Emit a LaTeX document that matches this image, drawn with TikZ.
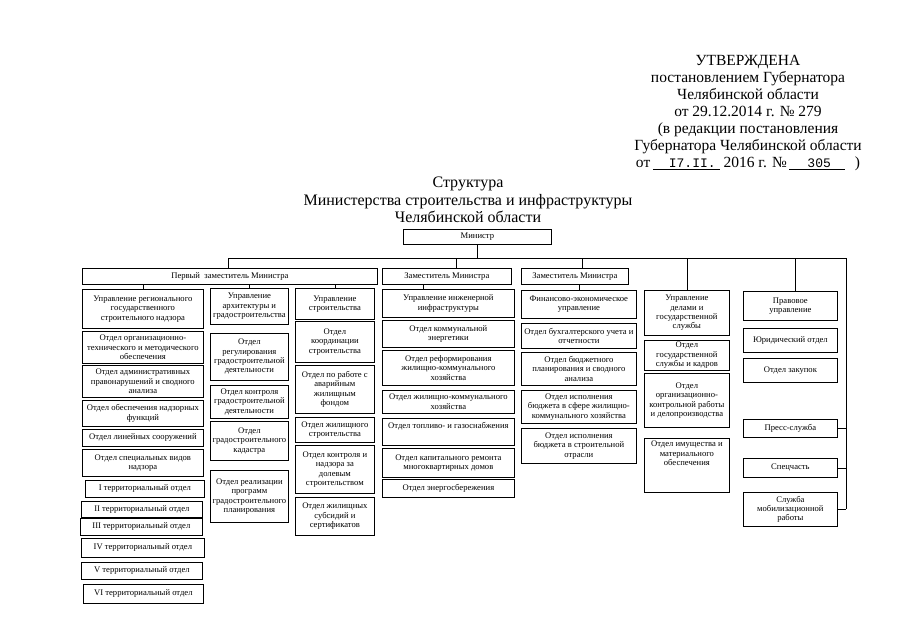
\documentclass[tikz,border=0pt]{standalone}
\usepackage{fontspec}
\setmainfont{Liberation Serif}
\newfontfamily\typew{Liberation Mono}
\tikzset{
  bx/.style={draw, line width=0.75pt, anchor=north west, inner sep=0pt, align=center, font=\fontsize{8.6}{9.4}\selectfont},
  ln/.style={line width=0.75pt},
}
\newcommand\obox[6]{\node[bx, minimum width=#4pt, minimum height=#5pt] (#1) at (#2,#3) {#6};}
\begin{document}
\begin{tikzpicture}[x=1pt,y=-1pt]
\useasboundingbox[fill=white] (0,0) rectangle (905,640);
% header
\node[anchor=north, align=center, inner sep=0pt, font=\fontsize{15.5}{17}\selectfont] (hdr) at (748,55)
 {УТВЕРЖДЕНА\\постановлением Губернатора\\Челябинской области\\от 29.12.2014 г. № 279\\(в редакции постановления\\Губернатора Челябинской области\\от\,\underline{\hspace{16pt}{\typew\fontsize{13}{13}\selectfont I7.II.}\hspace{4pt}} 2016 г. №\,\underline{\hspace{18pt}{\typew\fontsize{13}{13}\selectfont 305}\hspace{14pt}}\hspace{10pt})};
% title
\node[anchor=north, align=center, inner sep=0pt, font=\fontsize{16}{17.5}\selectfont] (ttl) at (468,177)
 {Структура\\Министерства строительства и инфраструктуры\\Челябинской области};
% minister and deputies
\obox{min}{403}{229}{148}{15}{Министр}
\obox{pz}{82}{268}{295}{16}{Первый\ \ заместитель Министра}
\obox{z1}{382}{268}{129}{16}{Заместитель Министра}
\obox{z2}{521}{268}{107}{16}{Заместитель Министра}
% column 1
\obox{r1}{82}{289}{121}{39}{Управление регионального\\государственного\\строительного надзора}
\obox{r2}{82}{331}{121}{32}{Отдел организационно-\\технического и методического\\обеспечения}
\obox{r3}{82}{365}{121}{32}{Отдел административных\\правонарушений и сводного\\анализа}
\obox{r4}{82}{400}{121}{26}{Отдел обеспечения надзорных\\функций}
\obox{r5}{82}{429}{121}{17}{Отдел линейных сооружений}
\obox{r6}{82}{449}{121}{27}{Отдел специальных видов\\надзора}
\obox{t1}{85}{480}{119}{17}{I территориальный отдел}
\obox{t2}{81}{501}{121}{16}{II территориальный отдел}
\obox{t3}{80}{518}{122}{17}{III территориальный отдел}
\obox{t4}{81}{538}{123}{19}{IV территориальный отдел}
\obox{t5}{81}{562}{121}{17}{V территориальный отдел}
\obox{t6}{83}{584}{120}{19}{VI территориальный отдел}
% column 2
\obox{a1}{210}{288}{78}{36}{Управление\\архитектуры и\\градостроительства}
\obox{a2}{210}{333}{78}{47}{Отдел\\регулирования\\градостроительной\\деятельности}
\obox{a3}{210}{385}{78}{33}{Отдел контроля\\градостроительной\\деятельности}
\obox{a4}{210}{421}{78}{39}{Отдел\\градостроительного\\кадастра}
\obox{a5}{210}{470}{78}{52}{Отдел реализации\\программ\\градостроительного\\планирования}
% column 3
\obox{s1}{295}{288}{79}{31}{Управление\\строительства}
\obox{s2}{295}{321}{79}{41}{Отдел\\координации\\строительства}
\obox{s3}{295}{365}{79}{48}{Отдел по работе с\\аварийным\\жилищным\\фондом}
\obox{s4}{295}{417}{79}{25}{Отдел жилищного\\строительства}
\obox{s5}{295}{445}{79}{48}{Отдел контроля и\\надзора за\\долевым\\строительством}
\obox{s6}{295}{497}{79}{38}{Отдел жилищных\\субсидий и\\сертификатов}
% column 4
\obox{e1}{382}{289}{132}{28}{Управление инженерной\\инфраструктуры}
\obox{e2}{382}{320}{132}{27}{Отдел коммунальной\\энергетики}
\obox{e3}{382}{350}{132}{35}{Отдел реформирования\\жилищно-коммунального\\хозяйства}
\obox{e4}{382}{390}{132}{23}{Отдел жилищно-коммунального\\хозяйства}
\node[bx, minimum width=132pt, minimum height=27pt, text depth=12pt] (e5) at (382,418) {Отдел топливо- и газоснабжения};
\obox{e6}{382}{448}{132}{29}{Отдел капитального ремонта\\многоквартирных домов}
\obox{e7}{382}{479}{132}{18}{Отдел энергосбережения}
% column 5
\obox{f1}{521}{290}{115}{28}{Финансово-экономическое\\управление}
\obox{f2}{521}{323}{115}{25}{Отдел бухгалтерского учета и\\отчетности}
\obox{f3}{521}{352}{115}{33}{Отдел бюджетного\\планирования и сводного\\анализа}
\obox{f4}{521}{390}{115}{33}{Отдел исполнения\\бюджета в сфере жилищно-\\коммунального хозяйства}
\obox{f5}{521}{428}{115}{35}{Отдел исполнения\\бюджета в строительной\\отрасли}
% column 6
\obox{u1}{644}{290}{85}{45}{Управление\\делами и\\государственной\\службы}
\obox{u2}{644}{340}{85}{30}{Отдел\\государственной\\службы и кадров}
\obox{u3}{644}{373}{85}{54}{Отдел\\организационно-\\контрольной работы\\и делопроизводства}
\node[bx, minimum width=85pt, minimum height=54pt, text depth=24pt] (u4) at (644,438) {Отдел имущества и\\материального\\обеспечения};
% column 7
\obox{p1}{743}{291}{94}{29}{Правовое\\управление}
\obox{p2}{743}{328}{94}{24}{Юридический отдел}
\obox{p3}{743}{358}{94}{24}{Отдел закупок}
\obox{p4}{743}{419}{94}{18}{Пресс-служба}
\obox{p5}{743}{458}{94}{19}{Спецчасть}
\obox{p6}{743}{492}{94}{34}{Служба\\мобилизационной\\работы}
% connectors
\coordinate (busL) at (228,258);
\coordinate (busR) at (846,258);
\coordinate (d1) at (456,258);
\coordinate (d2) at (582,258);
\coordinate (d3) at (795,258);
\coordinate (d4) at (423,284);
\draw[ln] (busL) -- (busR);
\draw[ln] (min.south) -- (min.south |- busL);
\draw[ln] (busL) -- (busL |- pz.north);
\draw[ln] (d1) -- (d1 |- z1.north);
\draw[ln] (d2) -- (d2 |- z2.north);
\draw[ln] (u1.north) -- (u1.north |- busL);
\draw[ln] (d3) -- (d3 |- p1.north);
\draw[ln] (busR) -- (busR |- p6.east);
\draw[ln] (p4.east) -- (p4.east -| busR);
\draw[ln] (p5.east) -- (p5.east -| busR);
\draw[ln] (p6.east) -- (p6.east -| busR);
\draw[ln] (pz.south -| r1.north) -- (r1.north);
\draw[ln] (pz.south -| a1.north) -- (a1.north);
\draw[ln] (pz.south -| s1.north) -- (s1.north);
\draw[ln] (d4) -- (d4 |- e1.north);
\draw[ln] (z2.south -| f1.north) -- (f1.north);
\end{tikzpicture}
\end{document}
